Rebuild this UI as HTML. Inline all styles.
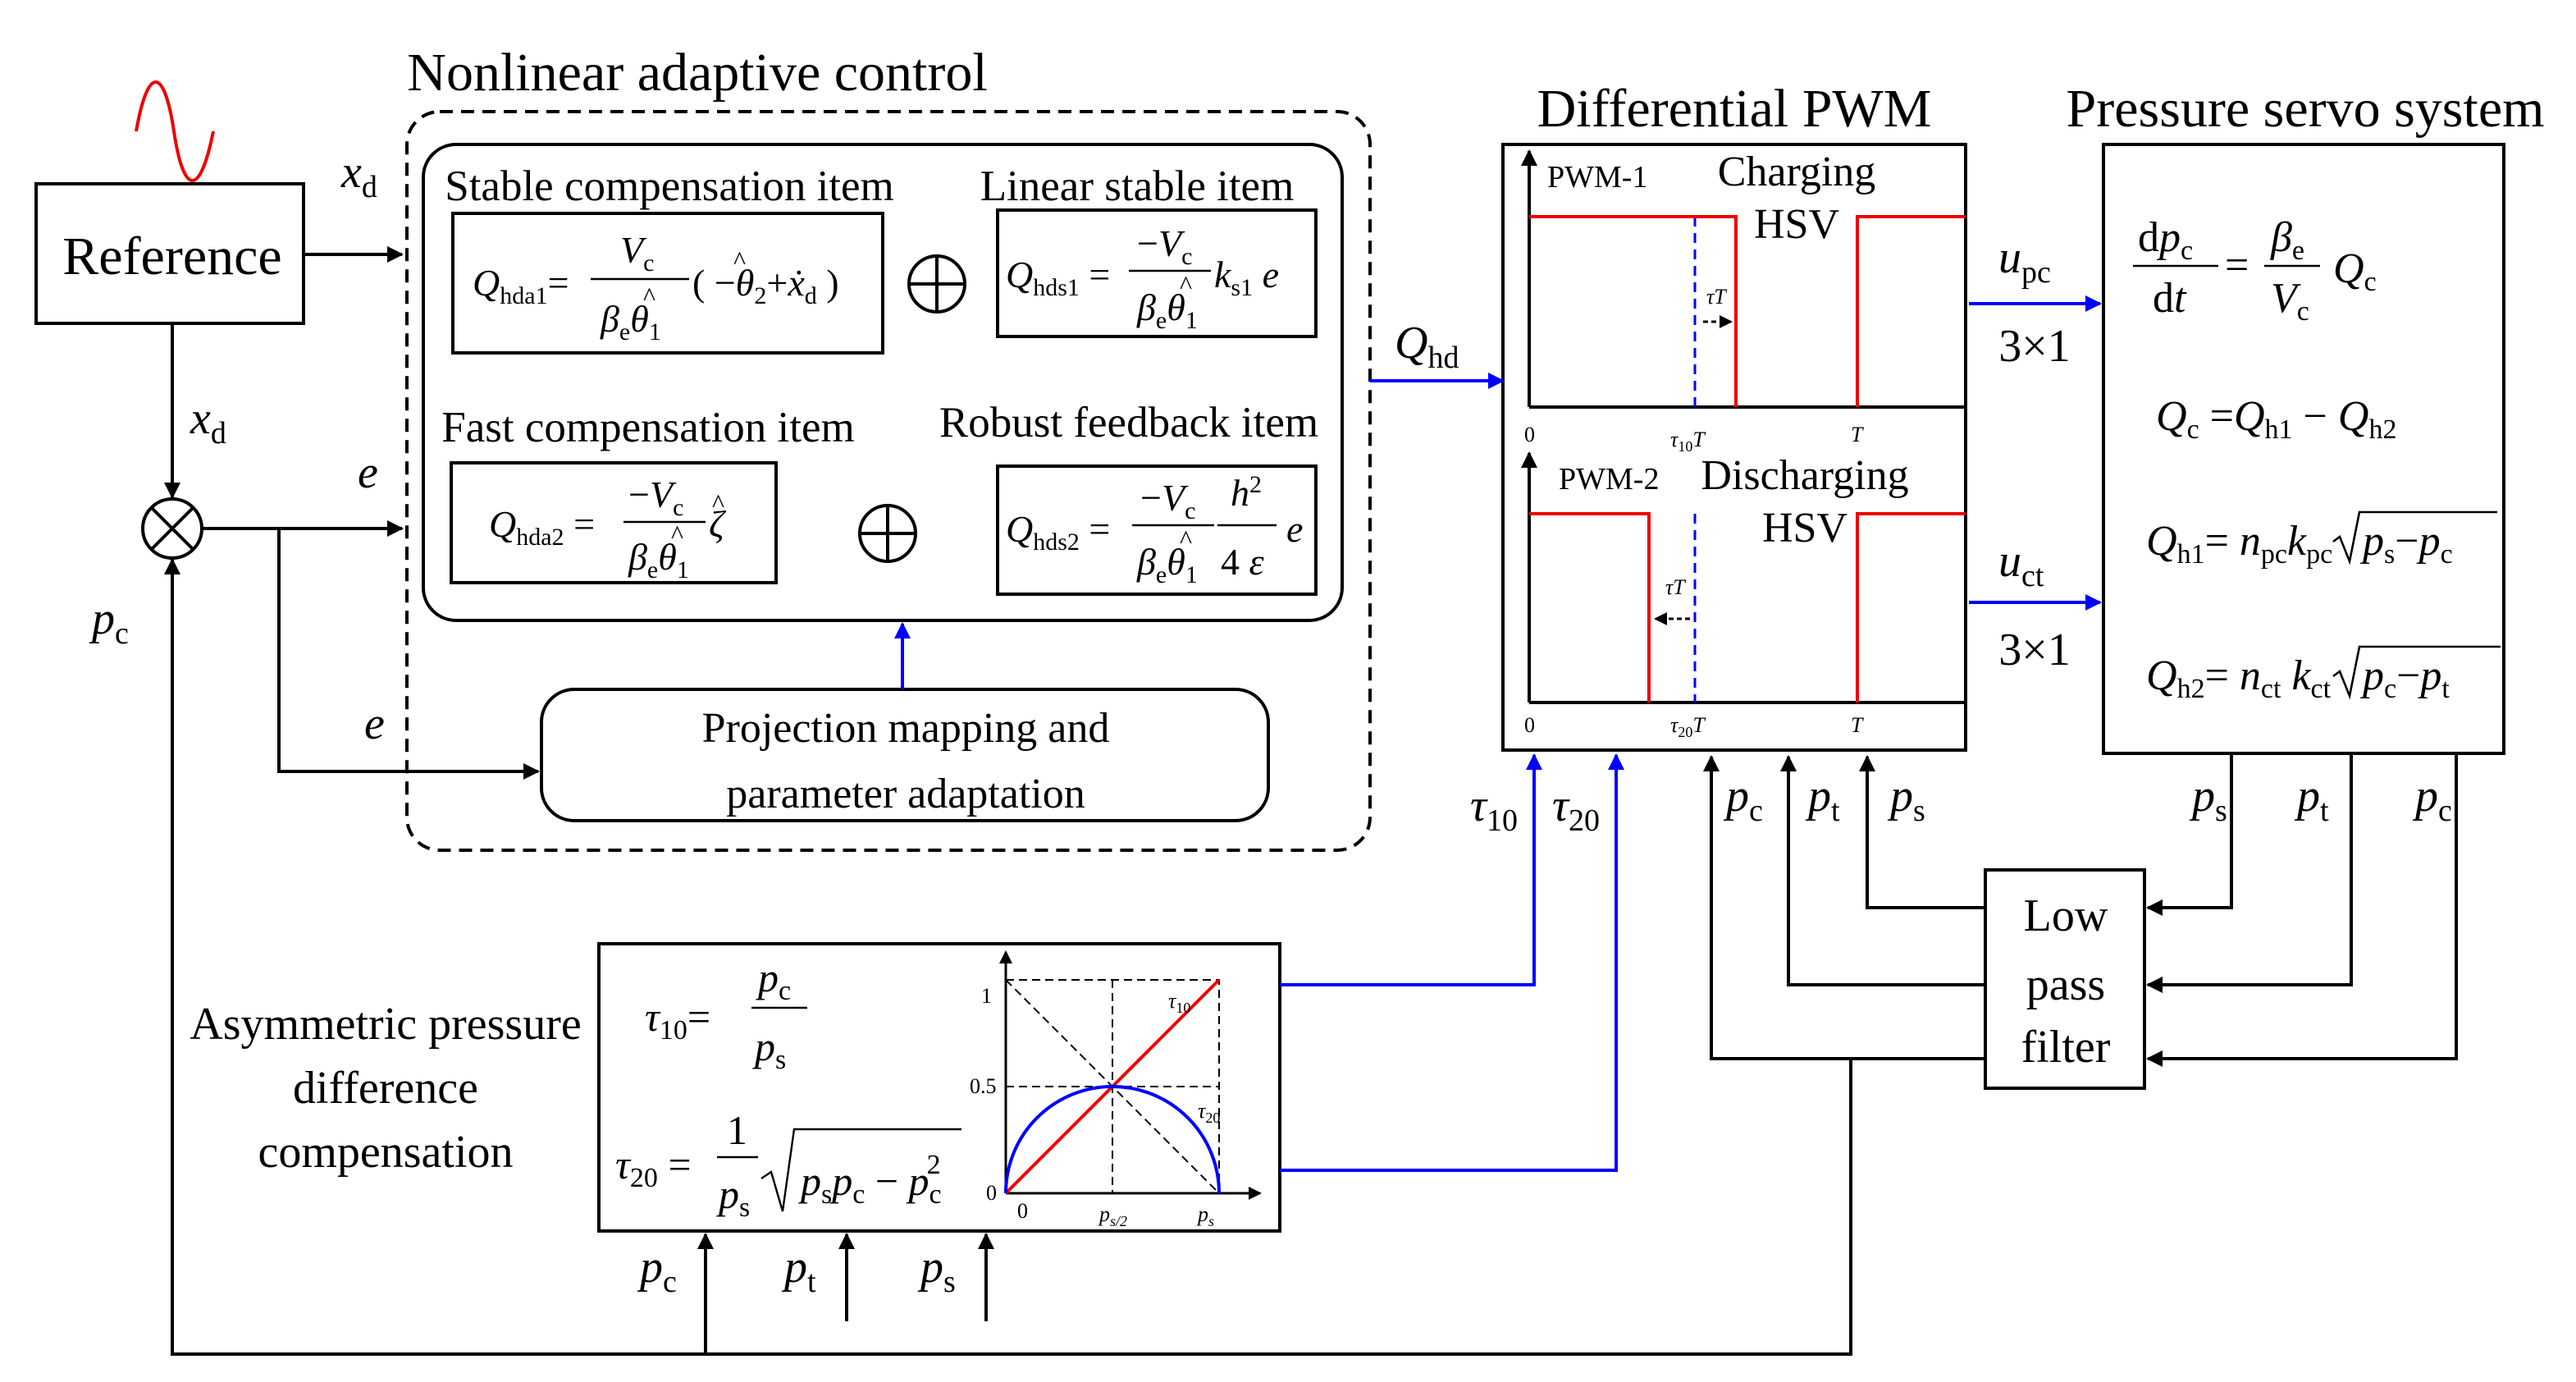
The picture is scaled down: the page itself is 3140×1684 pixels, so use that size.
<!DOCTYPE html>
<html><head><meta charset="utf-8"><style>
html,body{margin:0;padding:0;background:#fff}
svg{display:block}
text{font-family:"Liberation Serif",serif;fill:#000}
.i{font-style:italic}
</style></head><body>
<svg width="3140" height="1684" viewBox="0 0 1570 842" xmlns="http://www.w3.org/2000/svg">
<defs>
<marker id="ak" markerWidth="10" markerHeight="10" refX="9" refY="5" orient="auto" markerUnits="userSpaceOnUse"><path d="M0,0 L10,5 L0,10 Z" fill="#000"/></marker>
<marker id="ab" markerWidth="10" markerHeight="10" refX="9" refY="5" orient="auto" markerUnits="userSpaceOnUse"><path d="M0,0 L10,5 L0,10 Z" fill="#00f"/></marker>
<marker id="as" markerWidth="8" markerHeight="8" refX="7" refY="4" orient="auto" markerUnits="userSpaceOnUse"><path d="M0,0 L8,4 L0,8 Z" fill="#000"/></marker>
</defs>
<g fill="none" stroke="#000" stroke-width="2">
<path d="M83,80 C90,40 100,40 106,80 C112,120 122,120 130,80" stroke="#e00"/>
<rect x="22" y="112" width="163" height="85"/>
<line x1="185" y1="155" x2="245" y2="155" marker-end="url(#ak)"/>
<line x1="105" y1="197" x2="105" y2="303" marker-end="url(#ak)"/>
<circle cx="105" cy="322" r="18"/>
<line x1="92" y1="309" x2="118" y2="335"/><line x1="118" y1="309" x2="92" y2="335"/>
<line x1="123" y1="322" x2="245" y2="322" marker-end="url(#ak)"/>
<polyline points="170,322 170,470 328,470" marker-end="url(#ak)"/>
<polyline points="105,340 105,825 1128,825 1128,645" />
<line x1="105" y1="825" x2="105" y2="341" marker-end="url(#ak)"/>
<line x1="430" y1="825" x2="430" y2="752" marker-end="url(#ak)"/>
<line x1="516" y1="805" x2="516" y2="752" marker-end="url(#ak)"/>
<line x1="601" y1="805" x2="601" y2="752" marker-end="url(#ak)"/>
<rect x="248" y="68" width="587" height="450" rx="20" stroke-dasharray="8,5"/>
<rect x="258" y="88" width="560" height="290" rx="20"/>
<rect x="276" y="130" width="262" height="85"/>
<rect x="608" y="128" width="194" height="77"/>
<rect x="275" y="282" width="198" height="73"/>
<rect x="608" y="284" width="194" height="78"/>
<circle cx="571" cy="173" r="17"/><line x1="554" y1="173" x2="588" y2="173"/><line x1="571" y1="156" x2="571" y2="190"/>
<circle cx="541" cy="325" r="17"/><line x1="524" y1="325" x2="558" y2="325"/><line x1="541" y1="308" x2="541" y2="342"/>
<rect x="330" y="420" width="443" height="80" rx="20"/>
<rect x="916" y="88" width="282" height="369"/>
<line x1="932" y1="248" x2="1198" y2="248"/>
<line x1="932" y1="248" x2="932" y2="92" marker-end="url(#ak)"/>
<line x1="932" y1="428" x2="1198" y2="428"/>
<line x1="932" y1="428" x2="932" y2="276" marker-end="url(#ak)"/>
<rect x="1282" y="88" width="244" height="371"/>
<rect x="1210" y="530" width="97" height="133"/>
<polyline points="1360,459 1360,553 1309,553" marker-end="url(#ak)"/>
<polyline points="1433,459 1433,600 1309,600" marker-end="url(#ak)"/>
<polyline points="1497,459 1497,645 1309,645" marker-end="url(#ak)"/>
<polyline points="1210,553 1138,553 1138,461" marker-end="url(#ak)"/>
<polyline points="1210,600 1090,600 1090,461" marker-end="url(#ak)"/>
<polyline points="1210,645 1043,645 1043,461" marker-end="url(#ak)"/>
<rect x="365" y="575" width="415" height="175"/>
<line x1="613" y1="727" x2="613" y2="580" marker-end="url(#as)" stroke-width="1.5"/>
<line x1="613" y1="727" x2="768" y2="727" marker-end="url(#as)" stroke-width="1.5"/>
<g stroke-width="1" stroke-dasharray="5,3">
<polyline points="613,597 743,597 743,727"/>
<line x1="678" y1="597" x2="678" y2="727"/>
<line x1="613" y1="662" x2="743" y2="662"/>
<line x1="613" y1="597" x2="743" y2="727"/>
</g>
<line x1="613" y1="727" x2="743" y2="597" stroke="#e00"/>
<path d="M613,727 A65,65 0 0 1 743,727" stroke="#00f"/>
<g stroke-width="1.3">
<polyline points="1422,330 1426,327 1432,342 1438,312 1522,312"/>
<polyline points="1422,412 1426,409 1432,424 1438,394 1524,394"/>
</g>
</g>
<g fill="none" stroke="#00f" stroke-width="2">
<line x1="550" y1="420" x2="550" y2="380" marker-end="url(#ab)"/>
<line x1="835" y1="232" x2="916" y2="232" marker-end="url(#ab)"/>
<line x1="1200" y1="185" x2="1280" y2="185" marker-end="url(#ab)"/>
<line x1="1200" y1="367" x2="1280" y2="367" marker-end="url(#ab)"/>
<polyline points="780,600 935,600 935,460" marker-end="url(#ab)"/>
<polyline points="780,713 985,713 985,460" marker-end="url(#ab)"/>
<line x1="1033" y1="132" x2="1033" y2="248" stroke-dasharray="6,4" stroke-width="1.5"/>
<line x1="1033" y1="313" x2="1033" y2="428" stroke-dasharray="6,4" stroke-width="1.5"/>
</g>
<g fill="none" stroke="#e00" stroke-width="2">
<polyline points="932,132 1058,132 1058,248"/>
<polyline points="1132,248 1132,132 1198,132"/>
<polyline points="932,313 1005,313 1005,428"/>
<polyline points="1132,428 1132,313 1198,313"/>
</g>
<g stroke="#000" stroke-width="1.5" stroke-dasharray="3,2" fill="none">
<line x1="1038" y1="196" x2="1055" y2="196" marker-end="url(#as)"/>
<line x1="1030" y1="377" x2="1009" y2="377" marker-end="url(#as)"/>
</g>
<text x="105" y="167" font-size="33" text-anchor="middle">Reference</text>
<text x="208" y="114" font-size="28" class="i">x<tspan font-size="19" font-style="normal" dy="6">d</tspan></text>
<text x="116" y="264" font-size="28" class="i">x<tspan font-size="19" font-style="normal" dy="6">d</tspan></text>
<text x="218" y="297" font-size="28" class="i">e</text>
<text x="222" y="450" font-size="28" class="i">e</text>
<text x="56" y="386" font-size="28" class="i">p<tspan font-size="19" font-style="normal" dy="6">c</tspan></text>
<text x="425" y="55" font-size="33" text-anchor="middle">Nonlinear adaptive control</text>
<text x="408" y="122" font-size="26.5" text-anchor="middle">Stable compensation item</text>
<text x="693" y="122" font-size="26.5" text-anchor="middle">Linear stable item</text>
<text x="395" y="269" font-size="26.5" text-anchor="middle">Fast compensation item</text>
<text x="688" y="266" font-size="26.5" text-anchor="middle">Robust feedback item</text>
<text x="552" y="452" font-size="26" text-anchor="middle">Projection mapping and</text>
<text x="552" y="492" font-size="26" text-anchor="middle">parameter adaptation</text>
<g font-size="23">
<text x="288" y="180" class="i">Q<tspan font-size="15" font-style="normal" dy="5">hda1</tspan><tspan dy="-5" font-style="normal">=</tspan></text>
<line x1="360" y1="170" x2="420" y2="170" stroke="#000" stroke-width="1.2"/>
<text x="378" y="160" class="i">V<tspan font-size="15" font-style="normal" dy="5">c</tspan></text>
<text x="366" y="202" class="i">β<tspan font-size="15" font-style="normal" dy="5">e</tspan><tspan dy="-5">θ</tspan><tspan font-size="15" font-style="normal" dy="5">1</tspan></text>
<text x="392" y="186" font-size="16">^</text>
<text x="422" y="180">( −<tspan class="i">θ</tspan><tspan font-size="15" dy="5">2</tspan><tspan dy="-5">+</tspan><tspan class="i">ẋ</tspan><tspan font-size="15" dy="5">d</tspan><tspan dy="-5"> )</tspan></text>
<text x="447" y="164" font-size="16">^</text>
<text x="613" y="175" class="i">Q<tspan font-size="15" font-style="normal" dy="5">hds1</tspan><tspan dy="-5" font-style="normal"> =</tspan></text>
<line x1="688" y1="165" x2="738" y2="165" stroke="#000" stroke-width="1.2"/>
<text x="693" y="156">−<tspan class="i">V</tspan><tspan font-size="15" dy="5">c</tspan></text>
<text x="693" y="195" class="i">β<tspan font-size="15" font-style="normal" dy="5">e</tspan><tspan dy="-5">θ</tspan><tspan font-size="15" font-style="normal" dy="5">1</tspan></text>
<text x="719" y="179" font-size="16">^</text>
<text x="740" y="175" class="i">k<tspan font-size="15" font-style="normal" dy="5">s1</tspan><tspan dy="-5"> e</tspan></text>
<text x="298" y="327" class="i">Q<tspan font-size="15" font-style="normal" dy="5">hda2</tspan><tspan dy="-5" font-style="normal"> =</tspan></text>
<line x1="380" y1="318" x2="430" y2="318" stroke="#000" stroke-width="1.2"/>
<text x="383" y="309">−<tspan class="i">V</tspan><tspan font-size="15" dy="5">c</tspan></text>
<text x="383" y="347" class="i">β<tspan font-size="15" font-style="normal" dy="5">e</tspan><tspan dy="-5">θ</tspan><tspan font-size="15" font-style="normal" dy="5">1</tspan></text>
<text x="409" y="331" font-size="16">^</text>
<text x="432" y="327" class="i">ζ</text>
<text x="434" y="312" font-size="16">^</text>
<text x="613" y="330" class="i">Q<tspan font-size="15" font-style="normal" dy="5">hds2</tspan><tspan dy="-5" font-style="normal"> =</tspan></text>
<line x1="690" y1="320" x2="740" y2="320" stroke="#000" stroke-width="1.2"/>
<text x="695" y="311">−<tspan class="i">V</tspan><tspan font-size="15" dy="5">c</tspan></text>
<text x="693" y="350" class="i">β<tspan font-size="15" font-style="normal" dy="5">e</tspan><tspan dy="-5">θ</tspan><tspan font-size="15" font-style="normal" dy="5">1</tspan></text>
<text x="719" y="334" font-size="16">^</text>
<line x1="742" y1="320" x2="778" y2="320" stroke="#000" stroke-width="1.2"/>
<text x="750" y="308" class="i">h<tspan font-size="15" font-style="normal" dy="-8">2</tspan></text>
<text x="744" y="350">4 <tspan class="i">ε</tspan></text>
<text x="784" y="330" class="i">e</text>
</g>
<text x="850" y="218" font-size="28" class="i">Q<tspan font-size="19" font-style="normal" dy="6">hd</tspan></text>
<text x="1057" y="77" font-size="33" text-anchor="middle">Differential PWM</text>
<text x="943" y="114" font-size="19">PWM-1</text>
<text x="1095" y="113" font-size="26" text-anchor="middle">Charging</text>
<text x="1095" y="145" font-size="26" text-anchor="middle">HSV</text>
<text x="950" y="298" font-size="19">PWM-2</text>
<text x="1100" y="298" font-size="26" text-anchor="middle">Discharging</text>
<text x="1100" y="330" font-size="26" text-anchor="middle">HSV</text>
<g font-size="13">
<text x="929" y="269">0</text><text x="1018" y="272" class="i">τ<tspan font-size="9" font-style="normal" dy="3">10</tspan><tspan dy="-3">T</tspan></text><text x="1128" y="269" class="i">T</text>
<text x="929" y="446">0</text><text x="1018" y="446" class="i">τ<tspan font-size="9" font-style="normal" dy="3">20</tspan><tspan dy="-3">T</tspan></text><text x="1128" y="446" class="i">T</text>
<text x="1040" y="185" class="i">τT</text><text x="1015" y="362" class="i">τT</text>
</g>
<text x="1218" y="166" font-size="28" class="i">u<tspan font-size="19" font-style="normal" dy="6">pc</tspan></text>
<text x="1240" y="220" font-size="28" text-anchor="middle">3×1</text>
<text x="1218" y="351" font-size="28" class="i">u<tspan font-size="19" font-style="normal" dy="6">ct</tspan></text>
<text x="1240" y="405" font-size="28" text-anchor="middle">3×1</text>
<text x="1405" y="77" font-size="33" text-anchor="middle">Pressure servo system</text>
<g font-size="26">
<line x1="1300" y1="162" x2="1352" y2="162" stroke="#000" stroke-width="1.2"/>
<text x="1303" y="153">d<tspan class="i">p</tspan><tspan font-size="17" dy="5">c</tspan></text>
<text x="1312" y="190">d<tspan class="i">t</tspan></text>
<text x="1356" y="170">=</text>
<line x1="1380" y1="162" x2="1414" y2="162" stroke="#000" stroke-width="1.2"/>
<text x="1384" y="153" class="i">β<tspan font-size="17" font-style="normal" dy="5">e</tspan></text>
<text x="1384" y="190" class="i">V<tspan font-size="17" font-style="normal" dy="5">c</tspan></text>
<text x="1422" y="172" class="i">Q<tspan font-size="17" font-style="normal" dy="5">c</tspan></text>
<text x="1314" y="262" class="i">Q<tspan font-size="17" font-style="normal" dy="5">c</tspan><tspan font-style="normal" dy="-5"> =</tspan>Q<tspan font-size="17" font-style="normal" dy="5">h1</tspan><tspan font-style="normal" dy="-5"> − </tspan>Q<tspan font-size="17" font-style="normal" dy="5">h2</tspan></text>
<text x="1308" y="338" class="i">Q<tspan font-size="17" font-style="normal" dy="5">h1</tspan><tspan font-style="normal" dy="-5">= </tspan>n<tspan font-size="17" font-style="normal" dy="5">pc</tspan><tspan dy="-5">k</tspan><tspan font-size="17" font-style="normal" dy="5">pc</tspan></text>
<text x="1440" y="338" class="i">p<tspan font-size="17" font-style="normal" dy="5">s</tspan><tspan font-style="normal" dy="-5">−</tspan>p<tspan font-size="17" font-style="normal" dy="5">c</tspan></text>
<text x="1308" y="420" class="i">Q<tspan font-size="17" font-style="normal" dy="5">h2</tspan><tspan font-style="normal" dy="-5">= </tspan>n<tspan font-size="17" font-style="normal" dy="5">ct</tspan><tspan dy="-5"> k</tspan><tspan font-size="17" font-style="normal" dy="5">ct</tspan></text>
<text x="1440" y="420" class="i">p<tspan font-size="17" font-style="normal" dy="5">c</tspan><tspan font-style="normal" dy="-5">−</tspan>p<tspan font-size="17" font-style="normal" dy="5">t</tspan></text>
</g>
<g font-size="28" class="i">
<text x="1336" y="494">p<tspan font-size="19" font-style="normal" dy="6">s</tspan></text>
<text x="1400" y="494">p<tspan font-size="19" font-style="normal" dy="6">t</tspan></text>
<text x="1472" y="494">p<tspan font-size="19" font-style="normal" dy="6">c</tspan></text>
<text x="1152" y="494">p<tspan font-size="19" font-style="normal" dy="6">s</tspan></text>
<text x="1102" y="494">p<tspan font-size="19" font-style="normal" dy="6">t</tspan></text>
<text x="1052" y="494">p<tspan font-size="19" font-style="normal" dy="6">c</tspan></text>
<text x="896" y="500">τ<tspan font-size="19" font-style="normal" dy="6">10</tspan></text>
<text x="946" y="500">τ<tspan font-size="19" font-style="normal" dy="6">20</tspan></text>
<text x="390" y="781">p<tspan font-size="19" font-style="normal" dy="6">c</tspan></text>
<text x="478" y="781">p<tspan font-size="19" font-style="normal" dy="6">t</tspan></text>
<text x="561" y="781">p<tspan font-size="19" font-style="normal" dy="6">s</tspan></text>
</g>
<text x="1259" y="567" font-size="28" text-anchor="middle">Low</text>
<text x="1259" y="609" font-size="28" text-anchor="middle">pass</text>
<text x="1259" y="647" font-size="28" text-anchor="middle">filter</text>
<text x="235" y="633" font-size="28" text-anchor="middle">Asymmetric pressure</text>
<text x="235" y="672" font-size="28" text-anchor="middle">difference</text>
<text x="235" y="711" font-size="28" text-anchor="middle">compensation</text>
<g font-size="25">
<text x="393" y="628" class="i">τ<tspan font-size="17" font-style="normal" dy="5">10</tspan><tspan font-style="normal" dy="-5">=</tspan></text>
<line x1="458" y1="614" x2="492" y2="614" stroke="#000" stroke-width="1.2"/>
<text x="462" y="604" class="i">p<tspan font-size="17" font-style="normal" dy="5">c</tspan></text>
<text x="460" y="646" class="i">p<tspan font-size="17" font-style="normal" dy="5">s</tspan></text>
<text x="375" y="718" class="i">τ<tspan font-size="17" font-style="normal" dy="5">20</tspan><tspan font-style="normal" dy="-5"> =</tspan></text>
<line x1="437" y1="705" x2="462" y2="705" stroke="#000" stroke-width="1.2"/>
<text x="443" y="697">1</text>
<text x="438" y="736" class="i">p<tspan font-size="17" font-style="normal" dy="5">s</tspan></text>
<polyline points="464,718 470,714 477,738 484,688 586,688" fill="none" stroke="#000" stroke-width="1.2"/>
<text x="488" y="728" class="i">p<tspan font-size="17" font-style="normal" dy="5">s</tspan><tspan dy="-5">p</tspan><tspan font-size="17" font-style="normal" dy="5">c</tspan><tspan font-style="normal" dy="-5"> − </tspan>p<tspan font-size="17" font-style="normal" dy="5">c</tspan><tspan font-size="17" font-style="normal" dx="-9" dy="-18">2</tspan></text>
</g>
<g font-size="13">
<text x="598" y="611">1</text><text x="591" y="666">0.5</text><text x="601" y="731">0</text><text x="620" y="742">0</text>
<text x="670" y="744" class="i">p<tspan font-size="9" dy="3">s/2</tspan></text>
<text x="730" y="744" class="i">p<tspan font-size="9" dy="3">s</tspan></text>
<text x="712" y="614" class="i">τ<tspan font-size="9" font-style="normal" dy="3">10</tspan></text>
<text x="730" y="681" class="i">τ<tspan font-size="9" font-style="normal" dy="3">20</tspan></text>
</g>
</svg>
</body></html>
